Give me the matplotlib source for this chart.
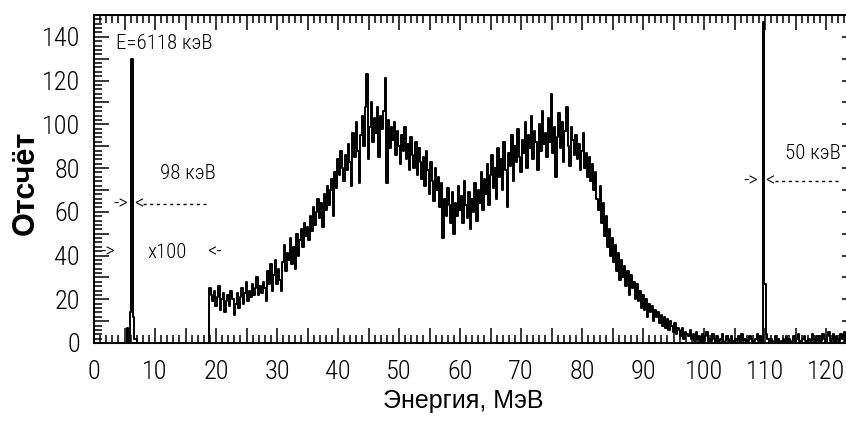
import numpy as np
import matplotlib
matplotlib.use("Agg")
import matplotlib.pyplot as plt
from matplotlib.ticker import MultipleLocator

NARROW = ['Roboto Condensed', 'DejaVu Sans']
REGULAR = ['Liberation Sans', 'DejaVu Sans']

# channel width, MeV
step = 0.25

# calibration line (6118 keV), raw counts
cal_start = 5.0
cal_counts = [0, 0, 7, 1, 14, 130, 12, 2, 2, 0]

# main spectrum from 19 MeV on (scaled x100), counts per channel
spec_start = 19.0
spec_counts = [
    25, 22, 19, 24, 17, 21, 26, 15, 20, 23, 14, 19, 22, 17, 24, 20, 13, 18, 23, 16,
    21, 25, 18, 23, 28, 19, 24, 21, 27, 22, 25, 30, 22, 26, 23, 28, 25, 19, 33, 27,
    36, 24, 31, 38, 27, 34, 29, 24, 37, 45, 33, 41, 38, 48, 36, 44, 34, 50, 40, 47,
    52, 44, 55, 49, 53, 47, 58, 51, 62, 54, 60, 66, 57, 64, 53, 68, 61, 72, 63, 70,
    75, 58, 78, 71, 84, 77, 88, 80, 74, 86, 79, 91, 83, 72, 96, 85, 101, 88, 73, 95,
    104, 90, 108, 123, 84, 99, 110, 92, 103, 96, 108, 85, 104, 98, 106, 121, 73, 102, 89, 99,
    93, 101, 86, 97, 90, 82, 95, 88, 99, 84, 91, 79, 94, 86, 80, 92, 77, 89, 83, 75,
    85, 72, 88, 79, 68, 83, 74, 65, 80, 70, 76, 62, 73, 48, 66, 58, 71, 63, 55, 69,
    50, 64, 58, 72, 61, 67, 55, 74, 63, 57, 69, 52, 66, 60, 73, 56, 70, 64, 78, 61,
    75, 68, 82, 63, 77, 86, 71, 80, 66, 89, 76, 84, 70, 92, 79, 62, 87, 81, 95, 74,
    90, 83, 98, 85, 78, 93, 87, 101, 80, 95, 89, 104, 84, 97, 92, 79, 100, 88, 106, 91,
    96, 85, 103, 92, 114, 87, 99, 76, 94, 105, 89, 101, 83, 97, 108, 90, 81, 99, 93, 86,
    95, 84, 91, 79, 88, 96, 80, 87, 76, 85, 74, 82, 70, 78, 66, 61, 72, 55, 64, 49,
    58, 44, 52, 40, 48, 37, 45, 33, 41, 29, 38, 30, 35, 26, 33, 22, 31, 25, 28, 20,
    27, 19, 24, 16, 22, 15, 20, 12, 18, 14, 17, 10, 15, 12, 14, 9, 13, 8, 12, 7,
    11, 6, 10, 8, 5, 9, 4, 7, 6, 3, 7, 2, 5, 4, 3, 6, 2, 4, 1, 5,
    2, 3, 0, 4, 1, 3, 5, 0, 2, 1, 4, 2, 0, 3, 1, 2, 4, 0, 1, 3,
    2, 0, 3, 1, 0, 2, 1, 3, 0, 4, 1, 2, 0, 1, 3, 2, 0, 1, 2, 4,
    1, 3, 0, 147, 27, 4, 2, 0, 2, 1, 0, 3, 1, 2, 0, 1, 2, 0, 3, 1,
    2, 0, 1, 3, 0, 2, 4, 1, 0, 2, 3, 1, 0, 2, 1, 4, 2, 0, 3, 1,
    3, 1, 4, 2, 0, 3, 5, 1, 2, 4, 0, 3, 2, 1, 4, 2, 5, 1, 3, 2,
]

x_ticks = np.arange(0, 121, 5)
y_ticks = np.arange(0, 141, 10)

# assemble one channel array: zeros outside the measured pieces
energy = np.arange(0, spec_start + step * len(spec_counts) - 1e-9, step)
counts = np.zeros_like(energy)
i0 = int(round(cal_start / step))
counts[i0:i0 + len(cal_counts)] = cal_counts
i1 = int(round(spec_start / step))
counts[i1:i1 + len(spec_counts)] = spec_counts

fig = plt.figure(figsize=(8.46, 4.25), dpi=100)
ax = fig.add_axes([94 / 846, 82 / 425, 754 / 846, 328 / 425])

ax.plot(energy, counts, drawstyle='steps-mid', color='black', lw=1.4)

ax.set_xlim(0, 754 / 6.1)
ax.set_ylim(0, 150)

for s in ax.spines.values():
    s.set_linewidth(1.4)

ax.set_xticks(x_ticks)
ax.set_xticklabels([str(v) if v % 10 == 0 else '' for v in x_ticks],
                   family=NARROW, fontsize=19, fontweight='light')
ax.xaxis.set_minor_locator(MultipleLocator(1))
ax.set_yticks(y_ticks)
ax.set_yticklabels([str(v) if v % 20 == 0 else '' for v in y_ticks],
                   family=NARROW, fontsize=19, fontweight='light')
ax.yaxis.set_minor_locator(MultipleLocator(2))
ax.tick_params(which='both', direction='in', top=True, right=False,
               color='black', width=1.1)
ax.tick_params(which='major', length=11)
ax.tick_params(which='minor', length=5.5)
ax.tick_params(axis='x', which='major', pad=12)
ax.tick_params(axis='y', which='major', pad=10)

# right side carries only the coarse ticks
ax2 = ax.twinx()
ax2.set_ylim(ax.get_ylim())
ax2.set_yticks(y_ticks)
ax2.set_yticklabels([])
ax2.tick_params(direction='in', length=4, width=1.1)
ax2.spines['right'].set_linewidth(1.4)

ax.set_xlabel('Энергия, МэВ', family=REGULAR, fontsize=18)
ax.xaxis.set_label_coords(0.49, -0.14)
ax.set_ylabel('Отсчёт', family=REGULAR, fontsize=22, fontweight='bold')
ax.yaxis.set_label_coords(-0.07, 0.488)

txt = dict(family=NARROW, fontsize=15, fontweight='light', color='black')
ax.text(3.6, 137, 'E=6118 кэВ', va='center', ha='left', **txt)
ax.text(10.8, 77.5, '98 кэВ', va='center', ha='left', **txt)
ax.text(3.1, 63.5, '->', va='center', ha='left', **txt)
ax.text(6.6, 63.5, '<', va='center', ha='left', **txt)
ax.hlines(63.5, 8.0, 18.5, colors='black', lw=1, linestyles=(0, (2.2, 2.6)))
ax.text(1.0, 41.5, '->', va='center', ha='left', **txt)
ax.text(8.7, 41.5, 'x100', va='center', ha='left', **txt)
ax.text(18.5, 41.5, '<-', va='center', ha='left', **txt)
ax.text(113.3, 86.5, '50 кэВ', va='center', ha='left', **txt)
ax.text(106.5, 74, '->', va='center', ha='left', **txt)
ax.text(110.1, 74, '<', va='center', ha='left', **txt)
ax.hlines(74, 111.6, 122.0, colors='black', lw=1, linestyles=(0, (2.2, 2.6)))

fig.savefig('out.png', dpi=100)
